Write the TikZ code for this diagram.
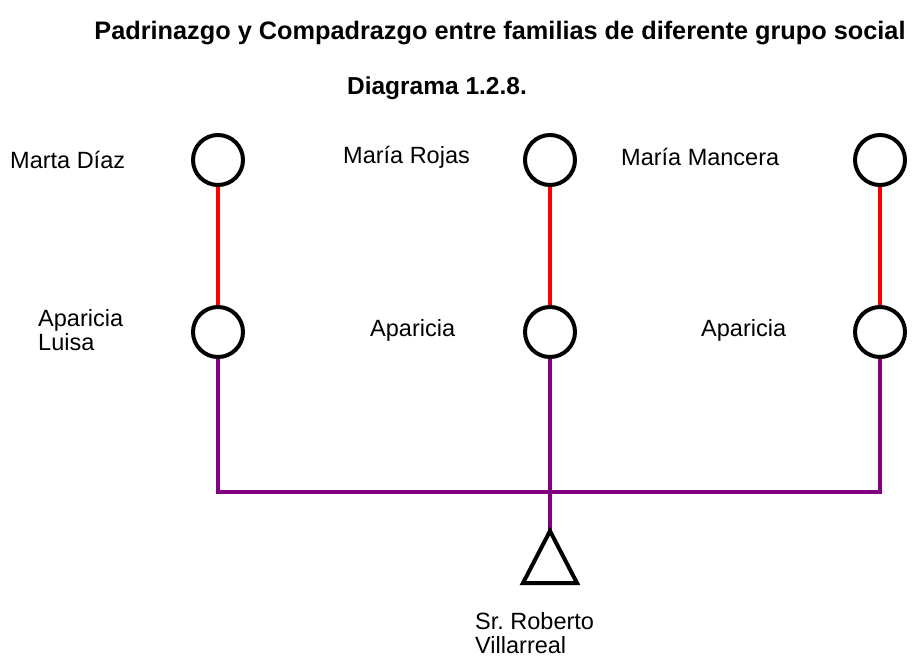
\documentclass[tikz,border=0pt]{standalone}
\usepackage{fontspec}
\setmainfont{Liberation Sans}
\usepackage{tikz}
\definecolor{lazo}{RGB}{255,0,0}
\definecolor{padrino}{RGB}{128,0,128}
\frenchspacing

\begin{document}
\begin{tikzpicture}[x=1pt,y=-1pt,
		mujer/.style={draw,circle,line width=4pt,minimum size=50pt,inner sep=0pt},
		rotulo/.style={anchor=west,align=left,inner sep=0pt,font=\fontsize{23.5}{24}\selectfont},
		titulo/.style={inner sep=0pt,font=\fontsize{24.5}{26}\selectfont\bfseries}]
		\useasboundingbox (0,0) rectangle (915,659);
		\node[titulo,font=\fontsize{25.3}{26}\selectfont\bfseries] (T1) at (500,33) {Padrinazgo y Compadrazgo entre familias de diferente grupo social};
		\node[titulo] (T2) at (437,88) {Diagrama 1.2.8.};
		\node[mujer] (M1) at (218,160) {};
		\node[mujer] (M2) at (550,160) {};
		\node[mujer] (M3) at (880,160) {};
		\node[mujer] (A1) at (218,332) {};
		\node[mujer] (A2) at (550,332) {};
		\node[mujer] (A3) at (880,332) {};
		\coordinate (UL) at (218,492);
		\coordinate (UR) at (880,492);
		\coordinate (ego) at (550,531);
		\node[rotulo] (nM1) at (10,160) {Marta Díaz};
		\node[rotulo] (nM2) at (343,157) {María Rojas};
		\node[rotulo] (nM3) at (621,157) {María Mancera};
		\node[rotulo] (nA1) at (38,330) {Aparicia\\Luisa};
		\node[rotulo] (nA2) at (370,330) {Aparicia};
		\node[rotulo] (nA3) at (701,330) {Aparicia};
		\node[rotulo] (nego) at (475,633) {Sr. Roberto\\Villarreal};
		\foreach \i in {1,2,3}
		\draw[line width=4pt,lazo] (M\i) -- (A\i);
		\draw[line width=4pt,padrino] (A1.south) -- (UL) -- (UR) -- (A3.south);
		\draw[line width=4pt,padrino] (A2.south) -- (ego);
		\draw[line width=4pt,black] (ego) -- ++(27,52) -- ++(-54,0) -- cycle;
	    \end{tikzpicture}
\end{document}
